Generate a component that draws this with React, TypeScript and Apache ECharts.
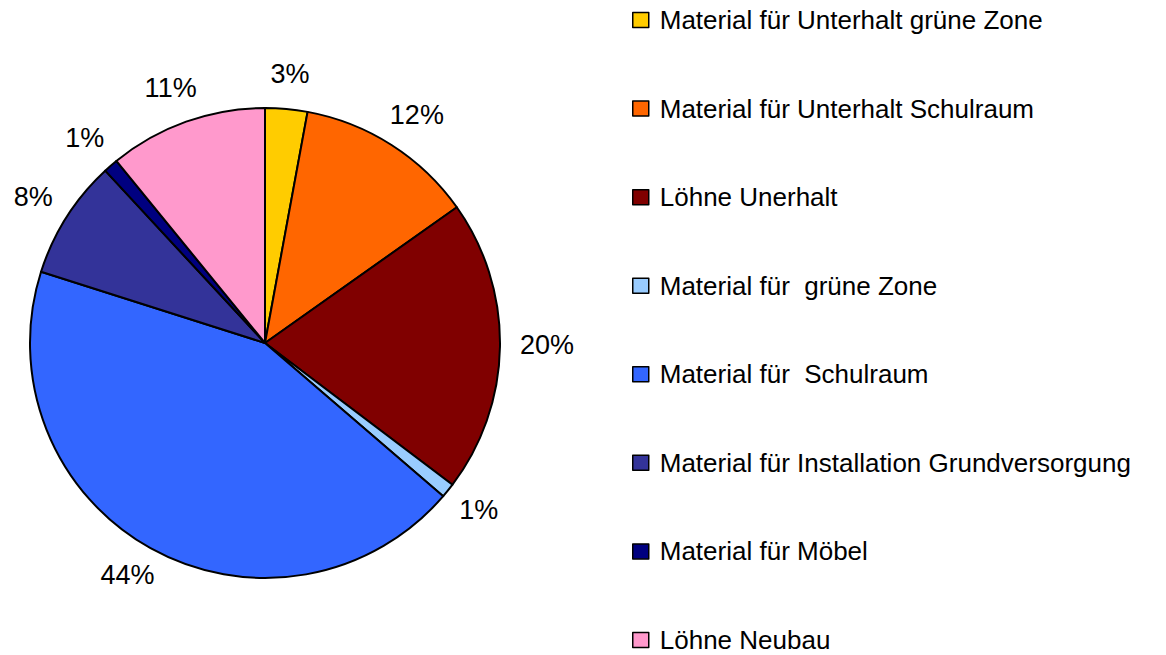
import React, { useEffect, useRef } from "react";
import * as echarts from "echarts";

const categories = [
  "Material für Unterhalt grüne Zone",
  "Material für Unterhalt Schulraum",
  "Löhne Unerhalt",
  "Material für  grüne Zone",
  "Material für  Schulraum",
  "Material für Installation Grundversorgung",
  "Material für Möbel",
  "Löhne Neubau",
];
const values = [2.9, 12.3, 20.1, 1.0, 43.6, 8.2, 1.0, 10.9];
const colors = ["#FFCC00", "#FF6600", "#800000", "#99CCFF", "#3366FF", "#333399", "#000080", "#FF99CC"];

const FONT = "'Liberation Sans', Arial, sans-serif";
const CX = 265;
const CY = 343;
const R = 235;
const LABEL_R = 255;

export default function App() {
  const ref = useRef<HTMLDivElement>(null);
  useEffect(() => {
    if (!ref.current) return;
    const chart = echarts.init(ref.current, undefined, { renderer: "svg" });
    const total = values.reduce((a, b) => a + b, 0);
    const mids: number[] = [];
    let acc = 0;
    values.forEach((v) => {
      mids.push(((acc + v / 2) / total) * Math.PI * 2);
      acc += v;
    });
    const data = categories.map((name, i) => ({
      name,
      value: values[i],
      itemStyle: { color: colors[i] },
    }));
    chart.setOption({
      animation: false,
      backgroundColor: "#ffffff",
      color: colors,
      legend: {
        orient: "vertical",
        left: 632,
        top: 7,
        padding: 0,
        itemWidth: 16,
        itemHeight: 15,
        itemGap: 62.57,
        icon: "rect",
        selectedMode: false,
        data: categories,
        itemStyle: { borderColor: "#000", borderWidth: 1.5 },
        textStyle: { fontFamily: FONT, fontSize: 26, color: "#000", lineHeight: 26, padding: [0, 0, 0, 6] },
      },
      series: [
        {
          type: "pie",
          center: [CX, CY],
          radius: [0, R],
          startAngle: 90,
          clockwise: true,
          avoidLabelOverlap: false,
          data,
          label: {
            show: true,
            position: "outside",
            overflow: "none",
            formatter: (p: any) => Math.round(p.percent) + "%",
            fontFamily: FONT,
            fontSize: 27,
            color: "#000",
          },
          labelLine: { show: false, length: 5, length2: 0 },
          labelLayout: (params: any) => {
            const t = mids[params.dataIndex];
            const w = params.labelRect.width;
            const h = params.labelRect.height;
            const s = Math.sin(t);
            const c = Math.cos(t);
            return {
              x: CX + LABEL_R * s + (w / 2) * s,
              y: CY - LABEL_R * c - (h / 2) * c - 2,
              align: "center",
              verticalAlign: "middle",
            };
          },
          itemStyle: { borderColor: "#000", borderWidth: 2 },
          emphasis: { disabled: true },
        },
      ],
    });
    return () => chart.dispose();
  }, []);
  return (
    <div
      ref={ref}
      style={{ position: "absolute", left: 0, top: 0, width: 1166, height: 655 }}
    />
  );
}
